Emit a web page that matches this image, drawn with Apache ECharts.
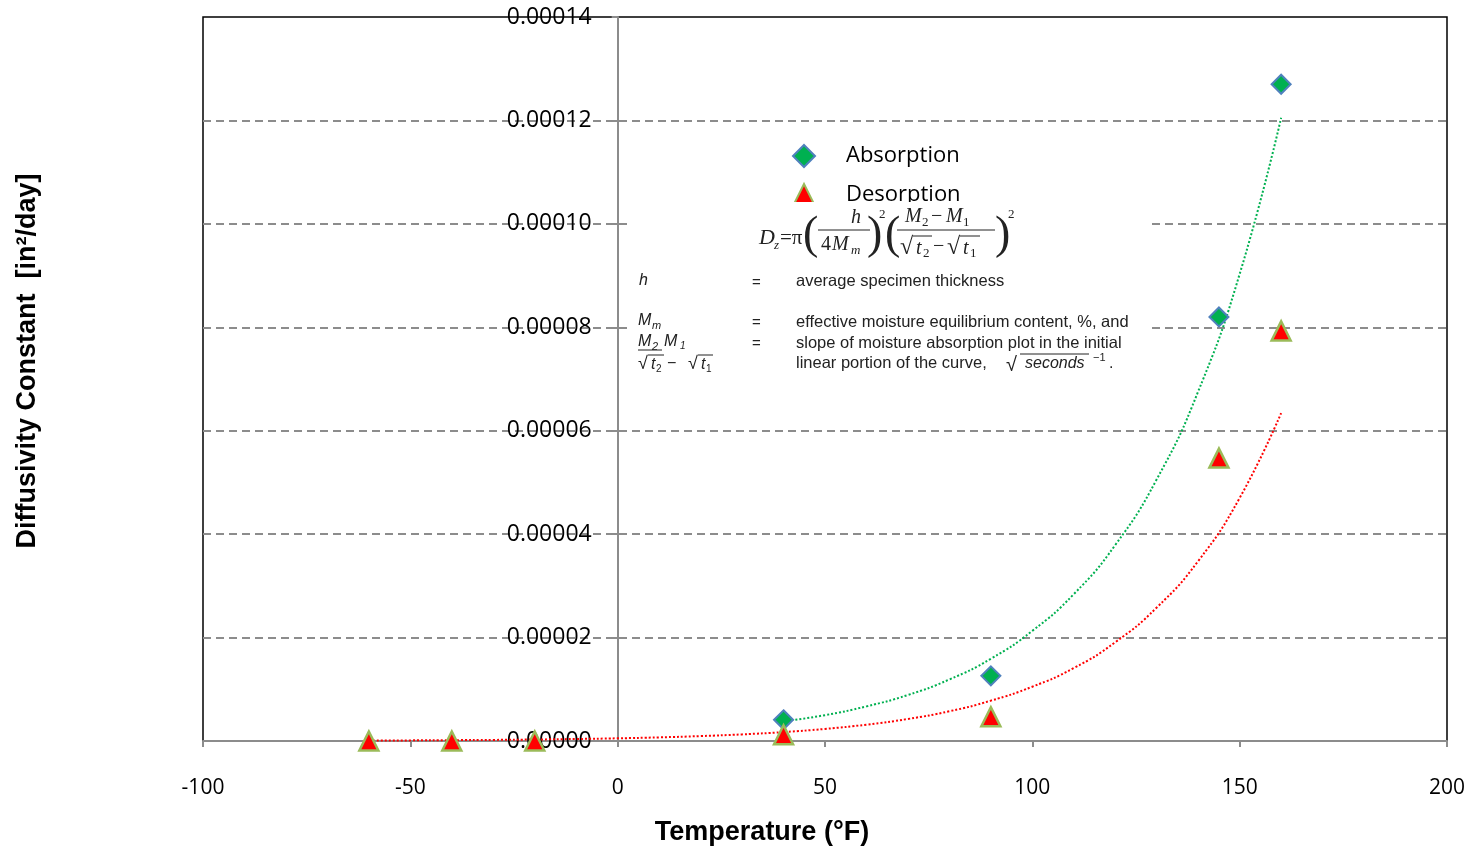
<!DOCTYPE html>
<html>
<head>
<meta charset="utf-8">
<title>Diffusivity Constant vs Temperature</title>
<script src="https://cdn.jsdelivr.net/npm/echarts@6/dist/echarts.min.js"></script>
<style>
  html, body { margin: 0; padding: 0; background: #ffffff; }
  #chart { width: 1472px; height: 849px; }
</style>
</head>
<body>
<div id="chart"></div>
<script>
// measured points
const absorptionTemp = [40, 90, 145, 160];
const absorptionD = [4.1e-6, 1.26e-5, 8.2e-5, 1.27e-4];
const desorptionTemp = [-60, -40, -20, 40, 90, 145, 160];
const desorptionD = [0, 0, 0, 1.2e-6, 4.7e-6, 5.47e-5, 7.93e-5];

// dotted trend lines
const absTrendTemp = [40, 50, 60, 70, 80, 90, 100, 110, 120, 130, 140, 150, 160];
const absTrendD = [3.8e-6, 5.0e-6, 6.7e-6, 8.9e-6, 1.19e-5, 1.59e-5, 2.13e-5, 2.84e-5, 3.79e-5, 5.06e-5, 6.76e-5, 9.03e-5, 1.205e-4];
const desTrendTemp = [-60, -50, -40, -30, -20, -10, 0, 10, 20, 30, 40, 50, 60, 70, 80, 90, 100, 110, 120, 130, 140, 150, 160];
const desTrendD = [0.9e-7, 1.2e-7, 1.6e-7, 2.1e-7, 2.9e-7, 3.9e-7, 5.2e-7, 7.0e-7, 9.5e-7, 1.28e-6, 1.73e-6, 2.34e-6, 3.16e-6, 4.26e-6, 5.75e-6, 7.8e-6, 1.05e-5, 1.41e-5, 1.91e-5, 2.58e-5, 3.48e-5, 4.7e-5, 6.34e-5];

const seriesNames = ['Absorption', 'Desorption'];

function pairs(xs, ys) {
  return xs.map((x, i) => [x, ys[i]]);
}

// small helper for the pasted formula block
function txt(x, y, text, size, opt) {
  opt = opt || {};
  return {
    type: 'text', x: x, y: y, z: 101,
    style: {
      text: text,
      fontSize: size,
      fontFamily: opt.family || 'Liberation Sans',
      fontStyle: opt.italic ? 'italic' : 'normal',
      fontWeight: opt.bold ? 'bold' : 'normal',
      fill: opt.color || '#222',
      align: opt.align || 'left',
      verticalAlign: 'middle'
    }
  };
}
function seg(x1, y1, x2, y2, w) {
  return { type: 'line', z: 101, shape: { x1: x1, y1: y1, x2: x2, y2: y2 }, style: { stroke: '#222', lineWidth: w || 1 } };
}
const serif = { family: 'Liberation Serif', italic: true };
const serifUp = { family: 'Liberation Serif' };

const formula = [
  { type: 'rect', z: 100, shape: { x: 630, y: 202, width: 518, height: 176 }, style: { fill: '#ffffff' } },
  txt(759, 238, 'D', 22, serif),
  txt(774, 246, 'z', 13, serif),
  txt(780, 238, '=π', 21, serifUp),
  txt(803, 236, '(', 46, serifUp),
  txt(851, 218, 'h', 20, serif),
  seg(818, 230, 870, 230),
  txt(821, 245, '4', 20, serifUp),
  txt(832, 245, 'M', 20, serif),
  txt(851, 251, 'm', 13, serif),
  txt(867, 236, ')', 46, serifUp),
  txt(879, 215, '2', 13, serifUp),
  txt(885, 236, '(', 46, serifUp),
  txt(905, 217, 'M', 20, serif),
  txt(922, 223, '2', 13, serifUp),
  txt(931, 217, '−', 20, serifUp),
  txt(946, 217, 'M', 20, serif),
  txt(963, 223, '1', 13, serifUp),
  seg(897, 230, 995, 230),
  txt(900, 248, '√', 24, serifUp),
  txt(916, 249, 't', 20, serif),
  txt(923, 254, '2', 13, serifUp),
  txt(933, 247, '−', 20, serifUp),
  txt(947, 248, '√', 24, serifUp),
  txt(963, 249, 't', 20, serif),
  txt(970, 254, '1', 13, serifUp),
  seg(913, 236, 932, 236),
  seg(960, 236, 980, 236),
  txt(995, 236, ')', 46, serifUp),
  txt(1008, 215, '2', 13, serifUp),

  txt(639, 281, 'h', 16, { italic: true }),
  txt(752, 283, '=', 15),
  txt(796, 281, 'average specimen thickness', 16.5),

  txt(638, 321, 'M', 16, { italic: true }),
  txt(652, 326, 'm', 11, { italic: true }),
  txt(752, 323, '=', 15),
  txt(796, 322, 'effective moisture equilibrium content, %, and', 16.5),

  txt(638, 342, 'M', 16, { italic: true }),
  txt(652, 347, '2', 11, { italic: true }),
  txt(664, 342, 'M', 16, { italic: true }),
  txt(680, 346, '1', 10, { italic: true }),
  seg(638, 350, 662, 350),
  txt(752, 344, '=', 15),
  txt(796, 343, 'slope of moisture absorption plot in the initial', 16.5),

  txt(638, 364, '√', 18),
  txt(651, 365, 't', 16, { italic: true }),
  txt(656, 369, '2', 10),
  txt(667, 364, '−', 16),
  txt(688, 364, '√', 18),
  txt(701, 365, 't', 16, { italic: true }),
  txt(706, 369, '1', 10),
  seg(648, 355, 664, 355),
  seg(698, 355, 713, 355),
  txt(796, 363, 'linear portion of the curve,', 16.5),
  txt(1006, 365, '√', 20),
  txt(1025, 364, 'seconds', 16, { italic: true }),
  seg(1020, 354, 1089, 354),
  txt(1093, 358, '−1', 11),
  txt(1109, 364, '.', 16)
];

const chart = echarts.init(document.getElementById('chart'));

// x = 0 sits 414.7 px right of the grid's left edge
const yAxisShift = -414.7;

const option = {
  backgroundColor: '#ffffff',
  animation: false,
  grid: {
    left: 203, right: 25, top: 17, bottom: 108,
    show: true, borderColor: '#000000', borderWidth: 1.5, backgroundColor: 'transparent'
  },
  legend: {
    data: seriesNames,
    orient: 'vertical',
    left: 787,
    top: 139,
    itemWidth: 22,
    itemHeight: 22,
    itemGap: 15,
    textStyle: { fontSize: 22, fontFamily: 'Open Sans', color: '#000', lineHeight: 22, padding: [0, 0, 0, 26] }
  },
  xAxis: {
    type: 'value',
    min: -100, max: 200, interval: 50,
    axisLine: { lineStyle: { color: '#8c8c8c', width: 2 } },
    axisTick: { show: true, length: 6, lineStyle: { color: '#8c8c8c', width: 2 } },
    axisLabel: { margin: 37, fontSize: 21, fontFamily: 'Open Sans', color: '#000' },
    splitLine: { show: false }
  },
  yAxis: {
    type: 'value',
    min: 0, max: 0.00014, interval: 0.00002,
    offset: yAxisShift,
    axisLine: { show: true, onZero: false, lineStyle: { color: '#8c8c8c', width: 2 } },
    axisTick: { show: true, length: 6, lineStyle: { color: '#8c8c8c', width: 2 } },
    axisLabel: {
      margin: 26, fontSize: 23, fontFamily: 'Open Sans', color: '#000',
      formatter: v => v.toFixed(5)
    },
    splitLine: {
      show: true, showMinLine: false, showMaxLine: false,
      lineStyle: { color: '#8c8c8c', width: 2, type: [8, 5] }
    }
  },
  series: [
    {
      name: 'Absorption trend', type: 'line', smooth: true, showSymbol: false, silent: true,
      data: pairs(absTrendTemp, absTrendD), z: 2,
      lineStyle: { color: '#00b050', width: 2, type: [2, 2] }
    },
    {
      name: 'Desorption trend', type: 'line', smooth: true, showSymbol: false, silent: true,
      data: pairs(desTrendTemp, desTrendD), z: 2,
      lineStyle: { color: '#ff0000', width: 2, type: [2, 2] }
    },
    {
      name: seriesNames[0], type: 'scatter', symbol: 'diamond', symbolSize: 19, z: 5,
      data: pairs(absorptionTemp, absorptionD),
      itemStyle: { color: '#00b050', borderColor: '#4f81bd', borderWidth: 2, opacity: 1 }
    },
    {
      name: seriesNames[1], type: 'scatter', symbol: 'triangle', symbolSize: 19, z: 5,
      data: pairs(desorptionTemp, desorptionD),
      itemStyle: { color: '#ff0000', borderColor: '#9bbb59', borderWidth: 2.5, opacity: 1 }
    }
  ],
  graphic: [
    {
      type: 'text', x: 28, y: 361, rotation: Math.PI / 2,
      style: {
        text: 'Diffusivity Constant  [in²/day]', fontSize: 27, fontWeight: 'bold',
        fontFamily: 'Liberation Sans', fill: '#000', align: 'center', verticalAlign: 'middle'
      }
    },
    {
      type: 'text', x: 762, y: 833,
      style: {
        text: 'Temperature (°F)', fontSize: 27, fontWeight: 'bold',
        fontFamily: 'Liberation Sans', fill: '#000', align: 'center', verticalAlign: 'middle'
      }
    }
  ].concat(formula)
};

chart.setOption(option);
</script>
</body>
</html>
